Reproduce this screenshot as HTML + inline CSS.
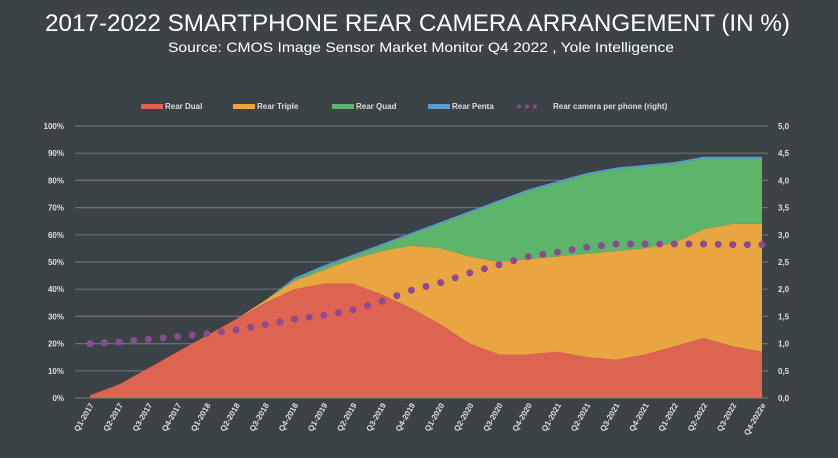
<!DOCTYPE html><html><head><style>body{margin:0;background:#3c4347;}svg{display:block}</style></head><body>
<svg id="s" width="838" height="458" xmlns="http://www.w3.org/2000/svg" font-family="Liberation Sans, sans-serif">
<rect width="838" height="458" fill="#3c4347"/>
<text x="45" y="31" fill="#fff" font-size="24" textLength="745" lengthAdjust="spacingAndGlyphs">2017-2022 SMARTPHONE REAR CAMERA ARRANGEMENT (IN %)</text>
<text x="168" y="52" fill="#fff" font-size="14" textLength="506" lengthAdjust="spacingAndGlyphs">Source: CMOS Image Sensor Market Monitor Q4 2022 , Yole Intelligence</text>
<g font-size="8" fill="#ddd" font-weight="bold">
<rect x="141" y="104" width="22" height="5" fill="#dd6450"/><text x="165" y="109">Rear Dual</text>
<rect x="233" y="104" width="22" height="5" fill="#e9a540"/><text x="257" y="109">Rear Triple</text>
<rect x="332" y="104" width="22" height="5" fill="#5db56a"/><text x="356" y="109">Rear Quad</text>
<rect x="428" y="104" width="22" height="5" fill="#5b9bd5"/><text x="452" y="109">Rear Penta</text>
<g fill="#8c4a8c"><circle cx="519" cy="106.5" r="2"/><circle cx="527" cy="106.5" r="2"/><circle cx="535" cy="106.5" r="2"/></g><text x="553" y="109">Rear camera per phone (right)</text>
</g>
<g id="g"></g>
</svg>
<script>
const g=document.getElementById('g');const NS='http://www.w3.org/2000/svg';
function el(t,a,txt){const e=document.createElementNS(NS,t);for(const k in a)e.setAttribute(k,a[k]);if(txt!=null)e.textContent=txt;g.appendChild(e);return e;}
const X=i=>90+i*(672/23),Y=v=>398-v*2.72,YR=v=>398-v/5*272;
for(let i=0;i<=10;i++){const y=Y(i*10);el('line',{x1:75,x2:768,y1:y,y2:y,stroke:'#6a7276','stroke-width':1.2});
el('text',{x:64,y:y+3,fill:'#ddd','font-size':8,'font-weight':'bold','text-anchor':'end'},i*10+'%');
el('text',{x:778,y:y+3,fill:'#ddd','font-size':8,'font-weight':'bold'},(i*0.5).toFixed(1).replace('.',','));}
const d=[1,5,11,17,23,29,35,40,42,42,38,33,27,20,16,16,17,15,14,16,19,22,19,17];
const t=[1,5,11,17,23,29,36,43,47,51,54,56,55,52,50,51,52,53,54,55,57,62,64,64];
const q=[1,5,11,17,23,29,36,43.5,48,52,56,60,64,68,72,76,79,82,84,85,86,88,88,88];
const p=q.map((v,i)=>i<7?v:v+0.7);
const dots=[1.0,1.03,1.08,1.13,1.18,1.25,1.35,1.45,1.52,1.62,1.78,1.98,2.12,2.3,2.45,2.6,2.68,2.77,2.83,2.83,2.83,2.83,2.82,2.82];
function area(top,bot,c){let s='M'+top.map((v,i)=>X(i)+','+Y(v)).join(' L');for(let i=23;i>=0;i--)s+=' L'+X(i)+','+Y(bot[i]);el('path',{d:s+'Z',fill:c});}
const z=d.map(()=>0);
area(p,q,'#5b9bd5');area(q,t,'#5db56a');area(t,d,'#e9a540');area(d,z,'#dd6450');
dots.forEach((v,i)=>{const y=YR(v);el('circle',{cx:X(i),cy:y,r:3.5,fill:'#8e4a90'});if(i<23){el('circle',{cx:X(i+.5),cy:(y+YR(dots[i+1]))/2,r:3.5,fill:'#8e4a90'});}});
const lab=[];for(let y=2017;y<=2022;y++)for(let k=1;k<=4;k++)lab.push('Q'+k+'-'+y);lab[23]='Q4-2022e';
lab.forEach((s,i)=>{const x=X(i)+4,y=405;el('text',{x:x,y:y,fill:'#ddd','font-size':8,'font-weight':'bold','text-anchor':'end',transform:`rotate(-60 ${x} ${y})`},s);});
</script>
</body></html>
